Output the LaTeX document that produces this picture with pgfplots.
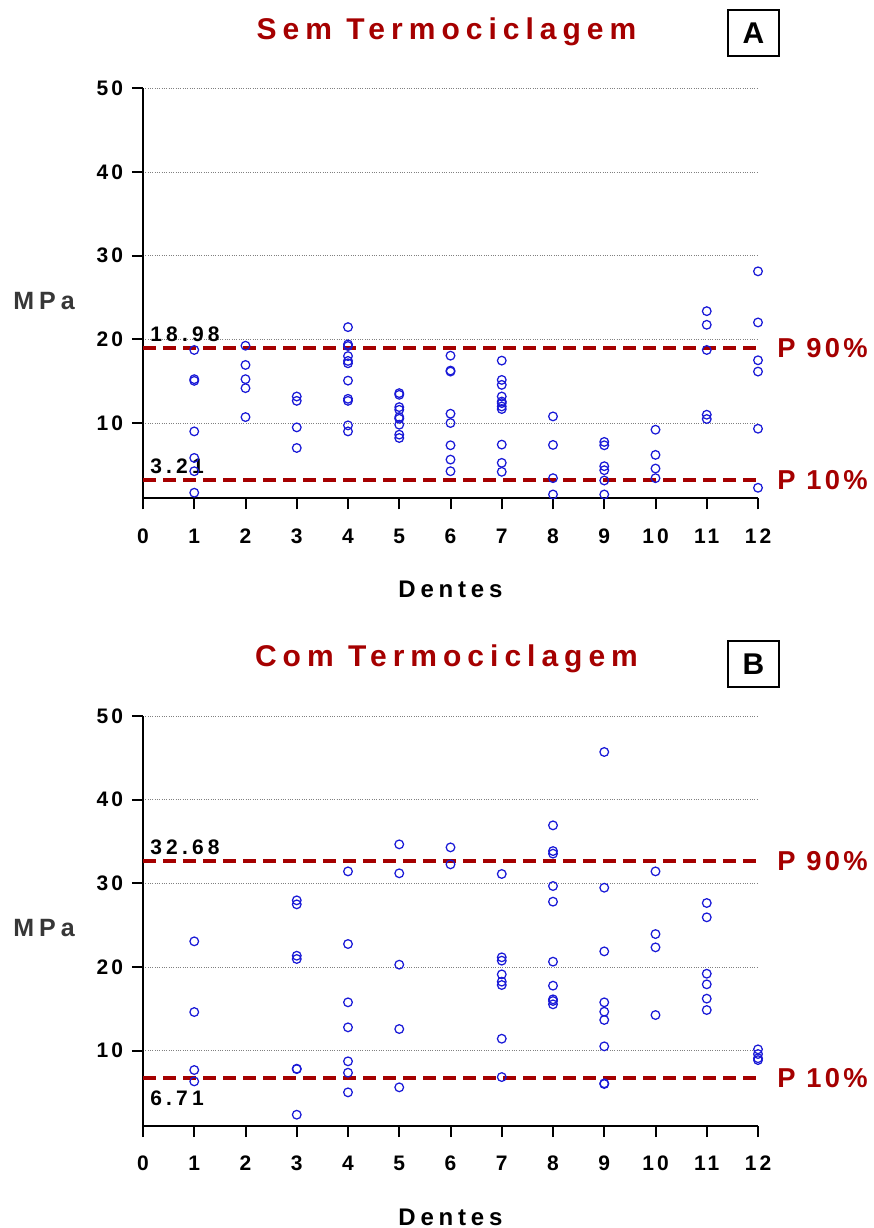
\documentclass[border=0pt]{standalone}
\usepackage{fontspec}
\setmainfont{Liberation Sans}[LetterSpace=20]
\newfontfamily\pfont{Liberation Sans}[LetterSpace=12]
\newfontfamily\tfont{Liberation Sans}[LetterSpace=15]
\usepackage{pgfplots}
\pgfplotsset{compat=1.18}
\definecolor{pred}{RGB}{165,0,0}
\definecolor{mblue}{RGB}{25,25,215}
\definecolor{mgray}{RGB}{55,55,55}
\tikzset{
  vlab/.style={font=\bfseries\fontsize{12.6}{14}\selectfont, inner sep=0pt},
  plab/.style={font=\pfont\bfseries\fontsize{16.4}{18}\selectfont, text=pred, inner sep=0pt, anchor=west},
}
\pgfplotsset{
  myaxis/.style={
    width=369pt, height=246pt, scale only axis,
    xmin=0, xmax=12, ymin=1, ymax=50,
    axis x line*=bottom, axis y line*=left,
    axis line style={line width=1.2pt, -},
    xtick={0,...,12}, ytick={10,20,30,40,50},
    tick align=outside, major tick length=6.6pt,
    tick style={line width=1.2pt, black},
    ymajorgrids, grid style={densely dotted, gray, line width=0.5pt},
    /pgf/number format/assume math mode=true,
    ticklabel style={font=\tfont\bfseries\fontsize{12.6}{14}\selectfont},
    xticklabel style={yshift=-8pt},
    yticklabel style={xshift=-1.8pt},
    clip=false,
    xlabel={Dentes},
    xlabel style={at={(rel axis cs:0.5,0)}, anchor=base, yshift=-59.4pt, font=\bfseries\fontsize{14.4}{16}\selectfont},
    ylabel={MPa},
    ylabel style={rotate=-90, at={(rel axis cs:0,0.482)}, anchor=center, xshift=-59.4pt, text=mgray, font=\bfseries\fontsize{15}{16}\selectfont},
  },
  pts/.style={only marks, mark=o, mark size=2.6pt, mark options={draw=mblue, line width=0.75pt}},
  pline/.style={pred, line width=2.4pt, dash pattern=on 7.8pt off 4.2pt},
}
\begin{document}
\begin{tikzpicture}
\path[use as bounding box] (0pt,0pt) rectangle (524.4pt,736.8pt);
% Top panel
\node[font=\bfseries\fontsize{18}{20}\selectfont, text=pred, anchor=base] at (267.9pt,713.2pt) {Sem Termociclagem};
\node[draw, line width=1.2pt, minimum width=30.6pt, minimum height=27.6pt, inner sep=0pt, font=\bfseries\fontsize{18}{18}\selectfont] at (452.1pt,717pt) {A};
\begin{axis}[myaxis, at={(85.8pt,437.8pt)}, anchor=south west]
\addplot[pline] coordinates {(0,18.98) (12,18.98)};
\addplot[pline] coordinates {(0,3.21) (12,3.21)};
\addplot[pts] coordinates {
(1,18.73) (1,15.24) (1,15.04) (1,9.0) (1,5.83) (1,4.24) (1,1.67)
(2,19.24) (2,16.94) (2,15.24) (2,14.17) (2,10.71)
(3,13.17) (3,12.65) (3,9.48) (3,7.02)
(4,21.46) (4,19.4) (4,19.2) (4,18.0) (4,17.42) (4,17.14) (4,15.07) (4,12.89) (4,12.65) (4,9.72) (4,9.0)
(5,13.57) (5,13.37) (5,11.9) (5,11.58) (5,10.71) (5,10.51) (5,9.8) (5,8.61) (5,8.21)
(6,18.05) (6,16.27) (6,16.15) (6,11.11) (6,10.0) (6,7.34) (6,5.63) (6,4.24)
(7,17.46) (7,15.15) (7,14.56) (7,13.17) (7,12.57) (7,12.38) (7,11.98) (7,11.67) (7,7.42) (7,5.24) (7,4.17)
(8,10.79) (8,7.38) (8,3.41) (8,1.46)
(9,7.74) (9,7.34) (9,4.84) (9,4.36) (9,3.13) (9,1.46)
(10,9.2) (10,6.19) (10,4.56) (10,3.41)
(11,23.37) (11,21.74) (11,18.73) (11,10.99) (11,10.48)
(12,28.13) (12,22.02) (12,17.5) (12,16.15) (12,9.32) (12,2.26)
};
\node[vlab, anchor=base west] at (axis cs:0,18.98) [xshift=4.2pt, yshift=3.6pt] {18.98};
\node[vlab, anchor=base west] at (axis cs:0,3.21) [xshift=4.2pt, yshift=3.6pt] {3.21};
\node[plab] at (axis cs:12,18.98) [xshift=11.4pt] {P 90\%};
\node[plab] at (axis cs:12,3.21) [xshift=11.4pt] {P 10\%};
\end{axis}
% Bottom panel
\node[font=\bfseries\fontsize{18}{20}\selectfont, text=pred, anchor=base] at (267.9pt,336.6pt) {Com Termociclagem};
\node[draw, line width=1.2pt, minimum width=30.6pt, minimum height=27.6pt, inner sep=0pt, font=\bfseries\fontsize{18}{18}\selectfont] at (452.1pt,338.4pt) {B};
\begin{axis}[myaxis, at={(85.8pt,61.2pt)}, anchor=south west]
\addplot[pline] coordinates {(0,32.68) (12,32.68)};
\addplot[pline] coordinates {(0,6.71) (12,6.71)};
\addplot[pts] coordinates {
(1,23.07) (1,14.62) (1,7.69) (1,6.33)
(3,27.97) (3,27.49) (3,21.35) (3,20.96) (3,7.85) (3,7.8) (3,2.35)
(4,31.43) (4,22.75) (4,15.78) (4,12.79) (4,8.73) (4,7.37) (4,5.02)
(5,34.66) (5,31.2) (5,20.28) (5,12.59) (5,5.62)
(6,34.3) (6,32.27)
(7,31.12) (7,21.16) (7,20.76) (7,19.12) (7,18.25) (7,17.85) (7,11.43) (7,6.85)
(8,36.93) (8,33.86) (8,33.55) (8,29.68) (8,27.81) (8,20.64) (8,17.77) (8,16.14) (8,15.94) (8,15.54)
(9,45.7) (9,29.48) (9,21.87) (9,15.78) (9,14.66) (9,13.67) (9,10.52) (9,6.1) (9,6.02)
(10,31.43) (10,23.94) (10,22.35) (10,14.26)
(11,27.65) (11,25.94) (11,19.2) (11,17.93) (11,16.22) (11,14.86)
(12,10.16) (12,9.6) (12,9.1) (12,8.88)
};
\node[vlab, anchor=base west] at (axis cs:0,32.68) [xshift=4.2pt, yshift=3.6pt] {32.68};
\node[vlab, anchor=north west] at (axis cs:0,6.71) [xshift=4.2pt, yshift=-7.2pt] {6.71};
\node[plab] at (axis cs:12,32.68) [xshift=11.4pt] {P 90\%};
\node[plab] at (axis cs:12,6.71) [xshift=11.4pt] {P 10\%};
\end{axis}
\end{tikzpicture}
\end{document}
